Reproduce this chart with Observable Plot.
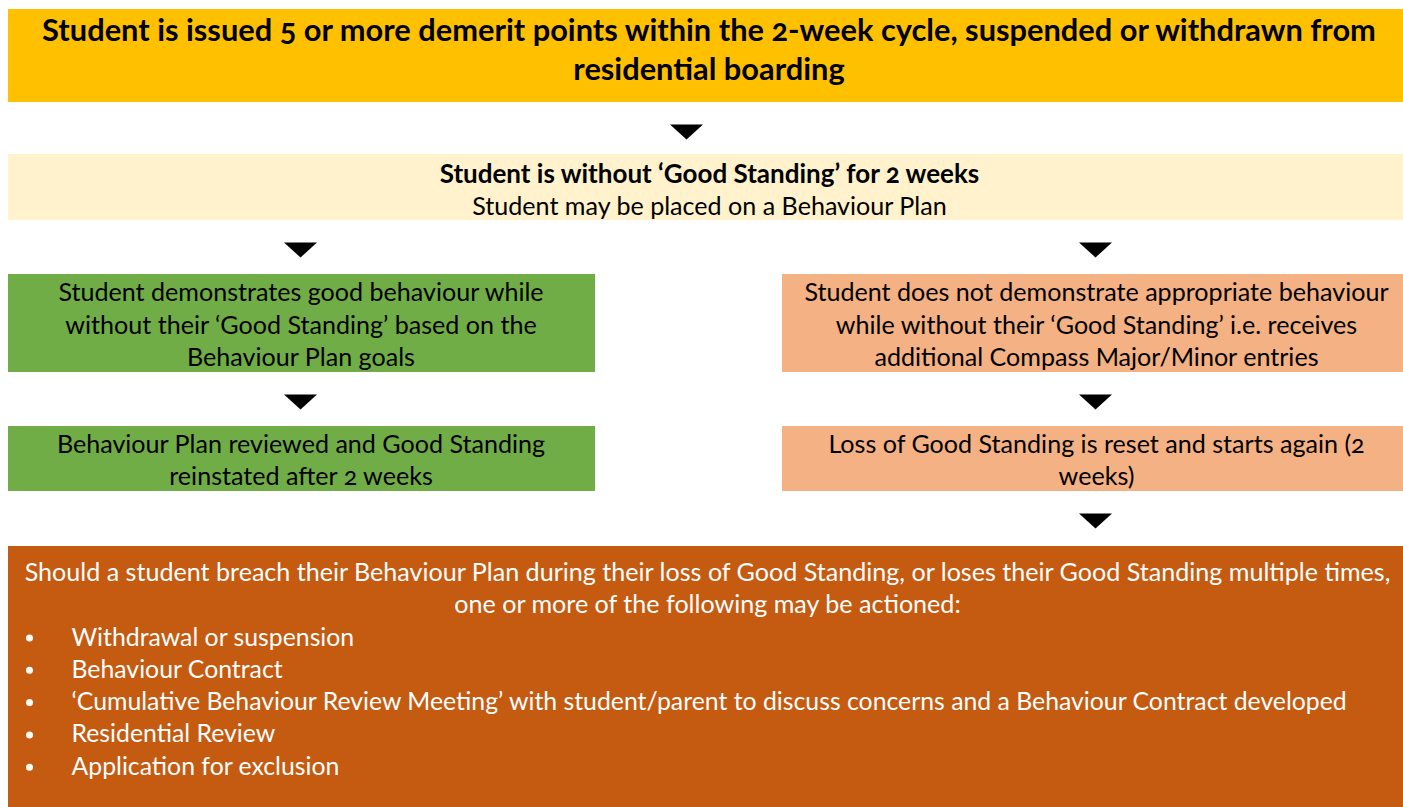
<!DOCTYPE html>
<html><head><meta charset="utf-8">
<script src="https://cdn.jsdelivr.net/npm/d3@7"></script>
<script src="https://cdn.jsdelivr.net/npm/@observablehq/plot@0.6"></script>
<style>
html,body{margin:0;padding:0;background:#fff}
#chart svg{display:block}
</style>
</head><body><div id="chart"></div>
<script>
// ---- content ----
const steps = ["trigger", "noStanding", "good", "poor", "reinstated", "reset", "actions"];
const stepTitle = [
  "Student is issued 5 or more demerit points within the 2-week cycle, suspended or withdrawn from\nresidential boarding",
  "Student is without \u2018Good Standing\u2019 for 2 weeks",
  "Student demonstrates good behaviour while\nwithout their \u2018Good Standing\u2019 based on the\nBehaviour Plan goals",
  "Student does not demonstrate appropriate behaviour\nwhile without their \u2018Good Standing\u2019 i.e. receives\nadditional Compass Major/Minor entries",
  "Behaviour Plan reviewed and Good Standing\nreinstated after 2 weeks",
  "Loss of Good Standing is reset and starts again (2\nweeks)",
  "Should a student breach their Behaviour Plan during their loss of Good Standing, or loses their Good Standing multiple times,\none or more of the following may be actioned:"
];
const stepNote = ["", "Student may be placed on a Behaviour Plan", "", "", "", "", ""];
const actionItems = [
  "Withdrawal or suspension",
  "Behaviour Contract",
  "\u2018Cumulative Behaviour Review Meeting\u2019 with student/parent to discuss concerns and a Behaviour Contract developed",
  "Residential Review",
  "Application for exclusion"
];
const linkFrom = ["trigger", "noStanding", "noStanding", "good", "poor", "reset"];
const linkTo   = ["noStanding", "good", "poor", "reinstated", "reset", "actions"];

// ---- layout (diagram units) ----
const W = 1403, H = 807;
const boxX1 = [8, 8, 8, 782, 8, 782, 8];
const boxX2 = [1403, 1403, 595, 1403, 595, 1403, 1403];
const boxY1 = [9, 154, 274, 274, 426, 426, 546];
const boxY2 = [102, 220, 372, 372, 491, 491, 807];
const boxFill = ["#FFC000", "#FFF2CC", "#70AD47", "#F4B183", "#70AD47", "#F4B183", "#C55A11"];
const titleX = [708.5, 709, 300.5, 1096, 300.5, 1096, 707];
const titleBase = [79.5, 182.5, 365.5, 365.5, 484.5, 484.5, 612.5];   // baseline of last line
const titleSize = [30.8, 26, 25.1, 25.1, 25.1, 25.1, 25.1];
const titleLead = [39, 32, 32.3, 32.3, 32, 32, 32];
const titleWeight = ["bold", "bold", "normal", "normal", "normal", "normal", "normal"];
const titleColor = ["#000", "#000", "#000", "#000", "#000", "#000", "#fff"];
const noteBase = 214;
const arrowX = [686, 300, 1095, 300, 1095, 1095];
const arrowY = [131.5, 249.5, 249.5, 401.5, 401.5, 520.5];
const bulletX = 29, itemX = 71, itemBase0 = 645, itemStep = 32.3, itemSize = 24.8;

const boxes = steps.map((s, i) => ({
  id: s, x1: boxX1[i], x2: boxX2[i], y1: boxY1[i], y2: boxY2[i], fill: boxFill[i],
  title: stepTitle[i], note: stepNote[i], tx: titleX[i], ty: titleBase[i],
  size: titleSize[i], lead: titleLead[i], weight: titleWeight[i], color: titleColor[i]
}));
const links = linkFrom.map((f, i) => ({from: f, to: linkTo[i], x: arrowX[i], y: arrowY[i]}));
const items = actionItems.map((t, i) => ({text: t, y: itemBase0 + i * itemStep}));

const wideTriangle = {
  draw(ctx) {
    ctx.moveTo(-16.5, -7.5);
    ctx.lineTo(16.5, -7.5);
    ctx.lineTo(0, 7.5);
    ctx.closePath();
  }
};

const font = "Lato, 'Open Sans', sans-serif";
const titleMarks = boxes.map(b =>
  Plot.text([b], {
    x: "tx", y: "ty", text: "title", fontSize: b.size, fontWeight: b.weight, fill: b.color,
    lineHeight: b.lead / b.size, lineAnchor: "bottom", textAnchor: "middle", fontFamily: font
  })
);

const chart = Plot.plot({
  width: W, height: H, margin: 0,
  x: {domain: [0, W], axis: null},
  y: {domain: [0, H], reverse: true, axis: null},
  style: {fontFamily: font, background: "#fff", fontVariantNumeric: "oldstyle-nums"},
  marks: [
    Plot.rect(boxes, {x1: "x1", x2: "x2", y1: "y1", y2: "y2", fill: "fill"}),
    Plot.dot(links, {x: "x", y: "y", symbol: wideTriangle, r: 8, fill: "#000", stroke: null}),
    ...titleMarks,
    Plot.text(boxes.filter(b => b.note), {x: "tx", y: () => noteBase, text: "note", fontSize: 25.1, lineAnchor: "bottom", fill: "#000", fontFamily: font}),
    Plot.dot(items, {x: () => bulletX, y: d => d.y - 7.5, r: 3.5, fill: "#fff", stroke: null}),
    Plot.text(items, {x: () => itemX, y: "y", text: "text", textAnchor: "start", lineAnchor: "bottom", fontSize: itemSize, fill: "#fff", fontFamily: font})
  ]
});
document.getElementById("chart").appendChild(chart);
</script>
</body></html>
